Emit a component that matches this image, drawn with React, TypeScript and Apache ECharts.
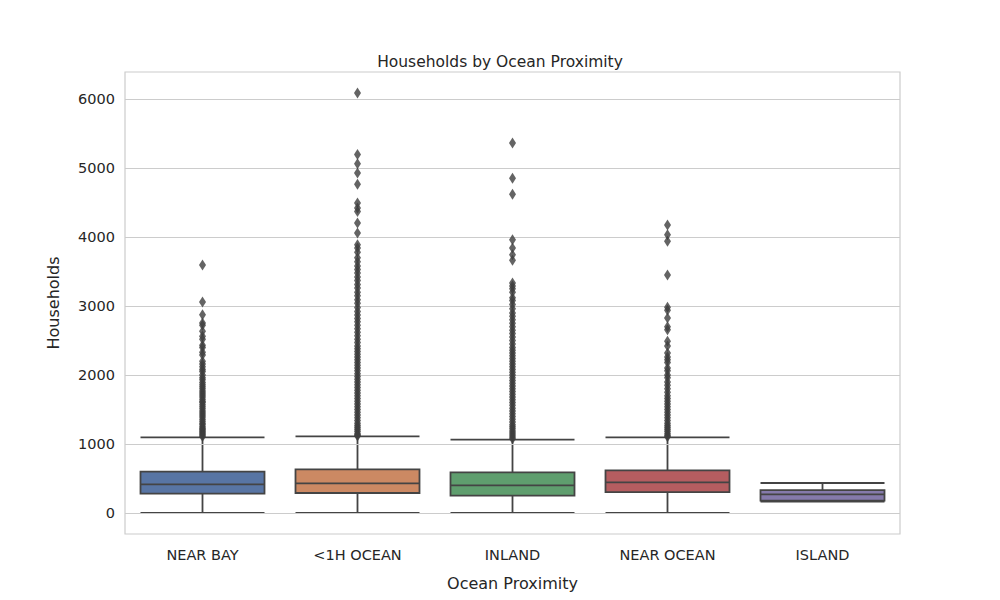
import { useEffect, useRef } from 'react'
import * as echarts from 'echarts'

const CATEGORIES = ['NEAR BAY', '<1H OCEAN', 'INLAND', 'NEAR OCEAN', 'ISLAND']
const BOX_COLORS = ['#5875a4', '#cc8963', '#5f9e6e', '#b55d60', '#857aab']
// [lower whisker, Q1, median, Q3, upper whisker]
const BOXES = [
  [1, 280, 415, 599, 1096],
  [2, 290, 430, 633, 1111],
  [1, 251, 401, 589, 1063],
  [1, 304, 444, 618, 1097],
  [165, 180, 270, 333, 435],
]
const TICKS = [0, 1000, 2000, 3000, 4000, 5000, 6000]

const OUT_NEAR_BAY = [3594, 3057, 2874, 2753, 2720, 2633, 2560, 2520, 2430, 2400, 2330, 2290, 2200, 2160, 2120,
  2080, 2050, 2000, 1960, 1930, 1890, 1860, 1830, 1800, 1770, 1740, 1710, 1680, 1650, 1620, 1600, 1570, 1540,
  1510, 1480, 1450, 1420, 1390, 1360, 1330, 1300, 1280, 1250, 1230, 1210, 1190, 1170, 1150, 1130, 1110]
const OUT_1H = [6086, 5197, 5062, 4927, 4763, 4492, 4420, 4371, 4202, 4057, 3888, 3840, 3780, 3700, 3640, 3580,
  3530, 3480, 3420, 3370, 3310, 3260, 3200, 3150, 3090, 3040, 2980, 2920, 2870, 2820, 2770, 2720, 2670, 2620,
  2570, 2520, 2470, 2420, 2380, 2340, 2300, 2260, 2220, 2180, 2140, 2100, 2060, 2020, 1980, 1940, 1900, 1860,
  1820, 1780, 1740, 1700, 1660, 1620, 1580, 1540, 1500, 1460, 1420, 1380, 1340, 1300, 1270, 1240, 1210, 1180,
  1150, 1130, 1115]
const OUT_INLAND = [5362, 4850, 4618, 3961, 3841, 3744, 3662, 3333, 3290, 3250, 3200, 3120, 3080, 3020, 2960,
  2900, 2850, 2800, 2750, 2700, 2650, 2600, 2550, 2500, 2450, 2400, 2360, 2320, 2280, 2240, 2200, 2160, 2120,
  2080, 2040, 2000, 1960, 1920, 1880, 1840, 1800, 1760, 1720, 1680, 1640, 1600, 1560, 1520, 1480, 1440, 1400,
  1360, 1320, 1280, 1250, 1220, 1190, 1160, 1130, 1100, 1075]
const OUT_NEAR_OCEAN = [4174, 4034, 3937, 3449, 2981, 2940, 2826, 2700, 2657, 2488, 2420, 2319, 2260, 2222, 2180,
  2100, 2060, 2000, 1960, 1900, 1850, 1800, 1750, 1700, 1660, 1620, 1580, 1540, 1500, 1460, 1420, 1380, 1340,
  1300, 1270, 1240, 1210, 1180, 1150, 1125, 1105]
const OUTLIERS = [OUT_NEAR_BAY, OUT_1H, OUT_INLAND, OUT_NEAR_OCEAN, []]

const FONT = 'DejaVu Sans, sans-serif'

export default function App() {
  const chartRef = useRef<HTMLDivElement>(null)

  useEffect(() => {
    if (!chartRef.current) return
    const chart = echarts.init(chartRef.current, null, { renderer: 'svg' })

    const outlierData: number[][] = []
    OUTLIERS.forEach((list, i) => list.forEach((v) => outlierData.push([i, v])))

    const option: echarts.EChartsOption = {
      animation: false,
      backgroundColor: '#ffffff',
      title: {
        text: 'Households by Ocean Proximity',
        left: 'center',
        top: 49,
        textStyle: { fontFamily: FONT, fontSize: 15.5, fontWeight: 'normal', color: '#262626' },
      },
      grid: { left: 125, right: 100, top: 72, bottom: 66, show: true, borderColor: '#cccccc', borderWidth: 1.2 },
      xAxis: {
        type: 'category',
        data: CATEGORIES,
        name: 'Ocean Proximity',
        nameLocation: 'middle',
        nameGap: 41,
        nameTextStyle: { fontFamily: FONT, fontSize: 16, color: '#262626' },
        axisLine: { show: false },
        axisTick: { show: false },
        splitLine: { show: false },
        axisLabel: { fontFamily: FONT, fontSize: 14.5, color: '#262626', margin: 13 },
      },
      yAxis: {
        type: 'value',
        min: -304,
        max: 6391,
        name: 'Households',
        nameLocation: 'middle',
        nameGap: 64,
        nameTextStyle: { fontFamily: FONT, fontSize: 16, color: '#262626' },
        axisLine: { show: false },
        axisTick: { show: false },
        axisLabel: { show: false },
        splitLine: { show: false },
      },
      series: [
        {
          type: 'line',
          data: [],
          markLine: {
            silent: true,
            symbol: 'none',
            lineStyle: { color: '#cccccc', type: 'solid', width: 1.2 },
            label: {
              position: 'start',
              distance: 10,
              fontFamily: FONT,
              fontSize: 14.5,
              color: '#262626',
              formatter: (p: any) => String(p.value),
            },
            data: TICKS.map((t) => ({ yAxis: t })),
          },
        },
        {
          type: 'boxplot',
          boxWidth: ['80%', '80%'],
          data: BOXES.map((b, i) => ({
            value: b,
            itemStyle: { color: BOX_COLORS[i], borderColor: '#444444', borderWidth: 1.8 },
          })),
        },
        {
          type: 'scatter',
          symbol: 'diamond',
          symbolSize: [7, 11],
          itemStyle: { color: '#3d3d3d' },
          data: outlierData,
          z: 5,
        },
      ],
    }

    chart.setOption(option)
    return () => chart.dispose()
  }, [])

  return <div ref={chartRef} style={{ position: 'absolute', left: 0, top: 0, width: 1000, height: 600 }} />
}
